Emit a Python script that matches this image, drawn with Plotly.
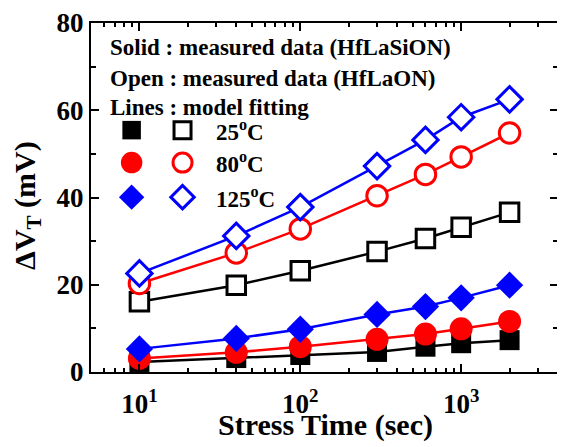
import plotly.graph_objects as go

# ---- data ----
stress_time = [10, 40, 100, 300, 600, 1000, 2000]
solid_25 = [2.3, 3.2, 3.9, 4.6, 5.8, 6.6, 7.3]
solid_80 = [3.1, 4.5, 5.8, 7.5, 8.7, 9.9, 11.6]
solid_125 = [5.3, 7.7, 9.8, 13.2, 15.0, 17.0, 19.9]
open_25 = [16.1, 19.9, 23.2, 27.6, 30.6, 33.2, 36.6]
open_80 = [20.3, 27.3, 32.8, 40.4, 45.3, 49.3, 54.8]
open_125 = [22.6, 31.2, 37.8, 47.2, 53.2, 58.4, 62.5]

temps = ["25<sup>o</sup>C", "80<sup>o</sup>C", "125<sup>o</sup>C"]
colors = ["#000000", "#FF0000", "#0000FF"]
symbols = ["square", "circle", "diamond"]
solid_sizes = [20, 23, 21]
open_sizes = [18.5, 20.5, 19.5]

x_tickvals = [10, 100, 1000]
x_ticktext = ["10<sup>1</sup>", "10<sup>2</sup>", "10<sup>3</sup>"]
x_minor = [m * 10 ** k for k in range(0, 4) for m in range(2, 10)]
x_minor = [v for v in x_minor if 5 <= v <= 4000]

FONT = "Liberation Serif"

fig = go.Figure()

for ys, c, s, sz in zip([solid_25, solid_80, solid_125], colors, symbols, solid_sizes):
    fig.add_trace(go.Scatter(
        x=stress_time, y=ys, mode="lines+markers",
        line=dict(color=c, width=2.5),
        marker=dict(symbol=s, size=sz, color=c, line=dict(color=c, width=0)),
        cliponaxis=False, showlegend=False))

for ys, c, s, sz in zip([open_25, open_80, open_125], colors, symbols, open_sizes):
    fig.add_trace(go.Scatter(
        x=stress_time, y=ys, mode="lines+markers",
        line=dict(color=c, width=2.5),
        marker=dict(symbol=s, size=sz, color="white", line=dict(color=c, width=3)),
        cliponaxis=False, showlegend=False))

# legend markers on an overlay axis spanning the plot area
leg_rows = [0.693, 0.600, 0.501]
for yy, c, s, sz, so in zip(leg_rows, colors, symbols, solid_sizes, open_sizes):
    fig.add_trace(go.Scatter(
        x=[0.087], y=[yy], mode="markers", xaxis="x2", yaxis="y2",
        marker=dict(symbol=s, size=sz - 1.5, color=c, line=dict(color=c, width=0)),
        showlegend=False, hoverinfo="skip"))
    fig.add_trace(go.Scatter(
        x=[0.196], y=[yy], mode="markers", xaxis="x2", yaxis="y2",
        marker=dict(symbol=s, size=so - 1.5, color="white", line=dict(color=c, width=3)),
        showlegend=False, hoverinfo="skip"))

annotations = []
header = ["Solid : measured data (HfLaSiON)",
          "Open : measured data (HfLaON)",
          "Lines : model fitting"]
for txt, yy in zip(header, [0.931, 0.842, 0.759]):
    annotations.append(dict(text=txt, x=0.036, y=yy, xref="paper", yref="paper",
                            xanchor="left", yanchor="middle", showarrow=False,
                            font=dict(family=FONT, size=23, color="black", weight="bold")))
for txt, yy in zip(temps, leg_rows):
    annotations.append(dict(text=txt, x=0.263, y=yy, xref="paper", yref="paper",
                            xanchor="left", yanchor="middle", showarrow=False,
                            font=dict(family=FONT, size=23, color="black", weight="bold")))
annotations.append(dict(text="ΔV<sub>T</sub> (mV)", x=-0.137, y=0.476, xref="paper", yref="paper",
                        xanchor="center", yanchor="middle", showarrow=False, textangle=-90,
                        font=dict(family=FONT, size=30, color="black", weight="bold")))
annotations.append(dict(text="Stress Time (sec)", x=0.502, y=-0.152, xref="paper", yref="paper",
                        xanchor="center", yanchor="middle", showarrow=False,
                        font=dict(family=FONT, size=30, color="black", weight="bold")))

# page body has an 8px margin: shrink the figure so the plot area lands where the reference has it
fig.update_layout(
    width=557, height=439,
    margin=dict(l=83, r=7, t=15, b=75),
    paper_bgcolor="white", plot_bgcolor="white",
    xaxis=dict(type="log", range=[0.69897, 3.60206], automargin=False,
               tickmode="array", tickvals=x_tickvals, ticktext=x_ticktext,
               ticks="inside", ticklen=8, tickwidth=1.5, tickcolor="black",
               ticklabelstandoff=7,
               minor=dict(tickmode="array", tickvals=x_minor, ticks="inside",
                          ticklen=4, tickwidth=1.5, tickcolor="black"),
               showline=True, linecolor="black", linewidth=2, mirror="allticks",
               showgrid=False, zeroline=False,
               tickfont=dict(family=FONT, size=27, color="black", weight="bold")),
    yaxis=dict(range=[0, 80], tickmode="array", tickvals=[0, 20, 40, 60, 80], automargin=False,
               ticks="inside", ticklen=8, tickwidth=1.5, tickcolor="black",
               minor=dict(tickmode="array", tickvals=[10, 30, 50, 70], ticks="inside",
                          ticklen=5, tickwidth=1.5, tickcolor="black"),
               showline=True, linecolor="black", linewidth=2, mirror="allticks",
               showgrid=False, zeroline=False,
               tickfont=dict(family=FONT, size=27, color="black", weight="bold")),
    xaxis2=dict(overlaying="x", range=[0, 1], visible=False, domain=[0, 1]),
    yaxis2=dict(overlaying="y", range=[0, 1], visible=False),
    annotations=annotations,
)

fig.write_html("out.html")
